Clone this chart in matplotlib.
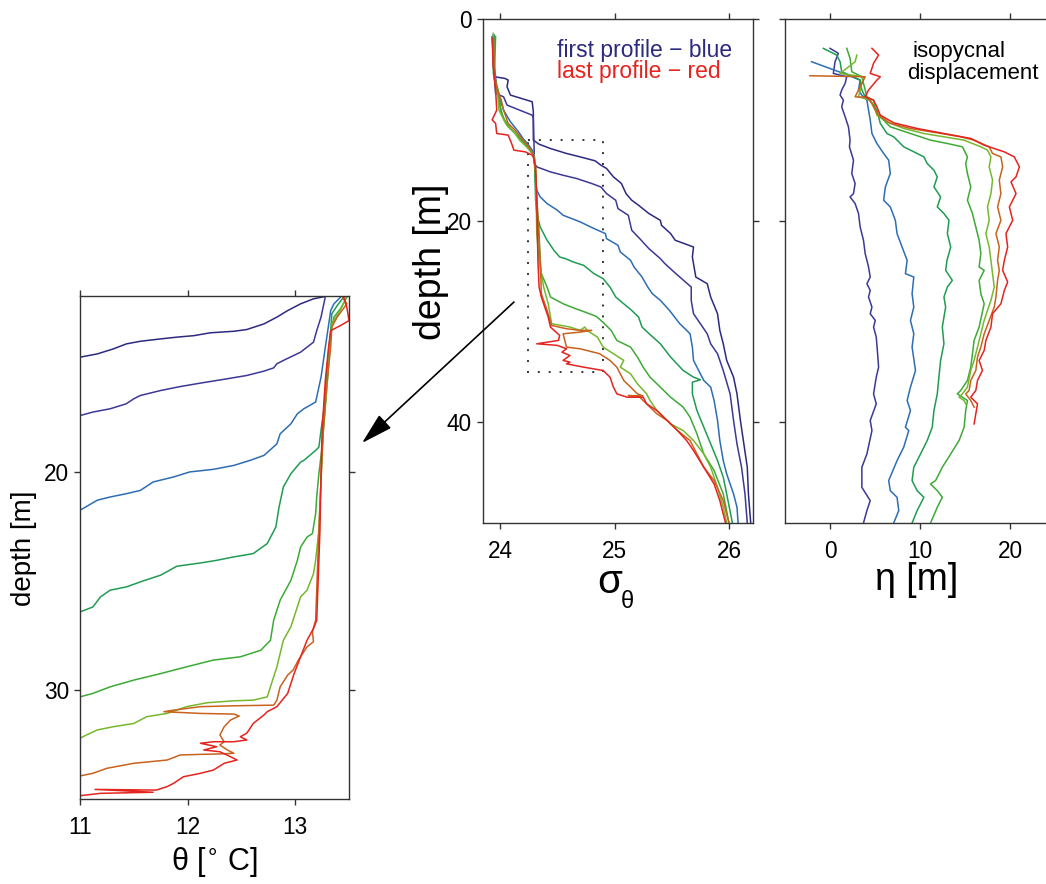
import matplotlib
matplotlib.use("Agg")
import matplotlib.pyplot as plt
from matplotlib.patches import Rectangle

plt.rcParams["font.family"] = ["Liberation Sans", "DejaVu Sans"]
plt.rcParams["mathtext.fontset"] = "dejavusans"

# profile colours, first (navy) to last (red)
colors = ["#2c2a80", "#3b3897", "#2d6db4", "#1f9c52", "#3daa36",
          "#76b82d", "#c8621e", "#e5231f"]

# sigma_theta vs depth, (sigma, depth)
sigma_1 = [(23.94, 1.6), (23.94, 4.7), (23.95, 5.73), (24.04, 5.89), (24.07, 6.06),
           (24.06, 6.72), (24.09, 7.55), (24.28, 8.21), (24.29, 9.21), (24.29, 12.02),
           (24.34, 12.42), (24.44, 12.85), (24.58, 13.34), (24.7, 13.68), (24.83, 14.07),
           (24.88, 14.5), (24.93, 14.83), (24.99, 15.66), (25.06, 16.32), (25.1, 17.32),
           (25.15, 17.98), (25.21, 18.48), (25.3, 19.3), (25.4, 19.97), (25.41, 20.46),
           (25.49, 21.29), (25.53, 21.95), (25.69, 22.62), (25.68, 23.61), (25.71, 25.6),
           (25.81, 26.26), (25.84, 27.58), (25.9, 29.24), (25.92, 30.89), (25.95, 32.22),
           (25.98, 33.87), (26.04, 35.53), (26.07, 37.19), (26.1, 39.83), (26.13, 42.15),
           (26.16, 44.47), (26.17, 47.12), (26.19, 50.0)]
sigma_2 = [(23.93, 1.75), (23.95, 5.73), (23.96, 7.38), (24.03, 7.72), (24.06, 8.54),
           (24.28, 9.54), (24.29, 9.87), (24.3, 14.34), (24.32, 14.67), (24.44, 15.17),
           (24.55, 15.5), (24.67, 15.83), (24.8, 16.32), (24.88, 16.66), (24.93, 17.32),
           (25.01, 17.98), (25.03, 18.81), (25.12, 19.47), (25.15, 20.96), (25.22, 21.79),
           (25.3, 22.78), (25.4, 23.77), (25.44, 24.27), (25.52, 25.1), (25.57, 25.6),
           (25.67, 26.59), (25.67, 27.91), (25.69, 29.24), (25.75, 30.23), (25.81, 31.23),
           (25.84, 32.22), (25.9, 33.21), (25.95, 34.87), (26.01, 37.19), (26.04, 39.83),
           (26.07, 42.15), (26.11, 44.47), (26.14, 47.12), (26.16, 50.0)]
sigma_3 = [(23.94, 1.75), (23.95, 4.74), (23.97, 6.72), (24.0, 8.05), (24.03, 9.04),
           (24.09, 10.2), (24.16, 11.19), (24.2, 11.85), (24.25, 12.52), (24.29, 13.18),
           (24.3, 14.01), (24.31, 15.99), (24.32, 17.0), (24.35, 17.65), (24.41, 18.31),
           (24.5, 18.97), (24.55, 19.47), (24.7, 20.13), (24.79, 20.63), (24.92, 21.29),
           (24.93, 21.79), (25.03, 22.45), (25.05, 23.11), (25.14, 23.94), (25.17, 24.6),
           (25.24, 25.6), (25.29, 26.59), (25.33, 27.25), (25.4, 27.91), (25.48, 28.91),
           (25.57, 30.23), (25.63, 30.89), (25.66, 31.23), (25.68, 32.55), (25.69, 33.87),
           (25.75, 35.2), (25.78, 35.86), (25.84, 36.52), (25.87, 37.85), (25.9, 39.83),
           (25.92, 41.82), (25.95, 43.81), (25.98, 45.13), (26.04, 47.12), (26.07, 48.44),
           (26.08, 50.0)]
sigma_4 = [(23.95, 1.59), (23.94, 5.4), (23.97, 7.05), (23.99, 8.05), (24.01, 9.37),
           (24.06, 10.53), (24.13, 11.36), (24.19, 12.02), (24.25, 12.85), (24.28, 13.34),
           (24.3, 14.01), (24.31, 17.98), (24.32, 19.3), (24.35, 20.63), (24.41, 21.95),
           (24.47, 22.95), (24.52, 23.61), (24.57, 23.77), (24.64, 24.11), (24.73, 24.44),
           (24.82, 25.26), (24.9, 25.76), (24.96, 26.59), (25.01, 27.58), (25.08, 28.25),
           (25.15, 28.91), (25.21, 29.57), (25.24, 30.56), (25.3, 31.2), (25.4, 32.22),
           (25.49, 33.54), (25.6, 34.87), (25.69, 35.53), (25.75, 35.79), (25.68, 36.03),
           (25.68, 37.19), (25.72, 38.84), (25.78, 40.5), (25.84, 42.15), (25.9, 43.81),
           (25.95, 45.46), (25.98, 47.12), (26.03, 50.0)]
sigma_5 = [(23.96, 1.75), (23.95, 5.73), (23.99, 7.38), (24.0, 8.71), (24.03, 9.87),
           (24.09, 10.86), (24.15, 11.52), (24.2, 12.19), (24.26, 13.01), (24.3, 13.68),
           (24.31, 16.32), (24.34, 21.29), (24.35, 23.94), (24.36, 25.26), (24.41, 26.59),
           (24.44, 27.58), (24.55, 28.25), (24.66, 28.74), (24.74, 29.07), (24.84, 29.5),
           (24.9, 30.1), (24.97, 30.89), (25.02, 31.89), (25.14, 32.55), (25.2, 33.54),
           (25.25, 34.54), (25.31, 35.53), (25.4, 36.52), (25.49, 37.52), (25.6, 38.51),
           (25.66, 39.5), (25.72, 41.16), (25.78, 43.15), (25.87, 44.8), (25.95, 47.12),
           (26.0, 50.0)]
sigma_6 = [(23.94, 1.42), (23.95, 6.06), (23.98, 7.72), (23.99, 9.04), (24.04, 10.2),
           (24.07, 10.7), (24.12, 11.19), (24.17, 12.02), (24.23, 12.68), (24.29, 13.41),
           (24.31, 14.67), (24.32, 21.29), (24.34, 23.94), (24.38, 26.59), (24.42, 28.25),
           (24.45, 30.23), (24.61, 30.56), (24.7, 30.89), (24.74, 30.56), (24.76, 30.89),
           (24.85, 31.56), (24.9, 32.55), (24.99, 33.21), (25.08, 33.87), (25.05, 34.54),
           (25.14, 35.2), (25.2, 36.19), (25.28, 37.19), (25.31, 37.85), (25.37, 38.84),
           (25.49, 40.17), (25.6, 40.83), (25.69, 41.82), (25.78, 43.15), (25.84, 44.47),
           (25.9, 46.46), (25.95, 48.44), (25.98, 50.0)]
sigma_7 = [(23.94, 1.92), (23.95, 5.4), (23.97, 6.89), (24.01, 8.05), (24.03, 9.04),
           (24.07, 10.36), (24.13, 11.03), (24.19, 11.85), (24.25, 12.68), (24.29, 13.41),
           (24.31, 15.33), (24.34, 21.95), (24.35, 23.94), (24.36, 27.25), (24.41, 28.91),
           (24.45, 30.4), (24.58, 30.73), (24.7, 30.89), (24.8, 30.89), (24.7, 31.06),
           (24.55, 31.23), (24.58, 32.55), (24.7, 32.72), (24.87, 33.21), (24.96, 33.87),
           (25.02, 34.54), (25.08, 35.86), (25.14, 36.52), (25.2, 37.19), (25.25, 37.4),
           (25.12, 37.35), (25.22, 37.52), (25.28, 38.18), (25.37, 39.17), (25.46, 39.83),
           (25.55, 40.83), (25.66, 41.82), (25.72, 43.15), (25.78, 44.47), (25.87, 45.79),
           (25.95, 47.78), (26.0, 50.0)]
sigma_8 = [(23.93, 1.92), (23.94, 4.74), (23.96, 7.05), (23.97, 9.04), (23.93, 10.0),
           (23.96, 10.36), (23.97, 11.36), (24.07, 11.52), (24.1, 12.35), (24.12, 13.01),
           (24.22, 13.18), (24.28, 13.51), (24.29, 13.68), (24.31, 14.67), (24.32, 17.98),
           (24.33, 23.94), (24.34, 26.59), (24.36, 27.58), (24.39, 28.58), (24.42, 29.57),
           (24.44, 30.56), (24.52, 31.39), (24.51, 31.89), (24.32, 32.22), (24.5, 32.38),
           (24.58, 32.72), (24.54, 33.05), (24.61, 33.38), (24.55, 33.87), (24.61, 34.04),
           (24.58, 34.21), (24.73, 34.54), (24.9, 34.87), (24.96, 35.53), (24.99, 36.52),
           (25.02, 37.19), (25.11, 37.52), (25.25, 37.52), (25.28, 38.18), (25.37, 38.84),
           (25.49, 40.17), (25.55, 40.83), (25.63, 41.82), (25.69, 42.81), (25.78, 44.47),
           (25.87, 46.13), (25.92, 47.78), (25.97, 50.0)]

# potential temperature vs depth in the zoom box, (theta, depth)
theta_1 = [(11.0, 14.71), (11.16, 14.56), (11.31, 14.33), (11.43, 14.1), (11.56, 13.98),
           (11.75, 13.87), (11.9, 13.79), (12.06, 13.72), (12.21, 13.59), (12.43, 13.52),
           (12.55, 13.44), (12.71, 13.18), (12.83, 12.87), (12.93, 12.57), (13.05, 12.26),
           (13.17, 12.03), (13.27, 11.93), (13.3, 11.5)]
theta_2 = [(11.0, 17.39), (11.12, 17.23), (11.28, 17.08), (11.43, 16.85), (11.5, 16.62),
           (11.56, 16.47), (11.75, 16.24), (11.93, 16.06), (12.12, 15.9), (12.37, 15.7),
           (12.55, 15.55), (12.71, 15.35), (12.8, 15.2), (12.83, 15.01), (12.89, 14.86),
           (13.05, 14.48), (13.17, 14.02), (13.2, 13.49), (13.24, 12.87), (13.28, 11.93),
           (13.3, 11.5)]
theta_3 = [(11.0, 21.74), (11.16, 21.28), (11.28, 21.13), (11.43, 20.98), (11.56, 20.83),
           (11.68, 20.44), (11.87, 20.21), (12.02, 19.98), (12.24, 19.86), (12.43, 19.68),
           (12.58, 19.45), (12.71, 19.22), (12.83, 18.69), (12.86, 18.23), (12.96, 17.77),
           (13.02, 17.31), (13.08, 17.08), (13.19, 16.77), (13.24, 15.63), (13.28, 14.25),
           (13.33, 12.57), (13.36, 12.26), (13.42, 11.96), (13.44, 11.5)]
theta_4 = [(13.47, 11.5), (13.45, 11.96), (13.39, 12.34), (13.34, 12.72), (13.33, 13.49),
           (13.3, 15.02), (13.27, 17.0), (13.24, 18.07), (13.22, 18.84), (13.19, 18.99),
           (13.08, 19.45), (13.05, 19.53), (12.96, 20.06), (12.89, 20.67), (12.85, 21.59),
           (12.82, 22.51), (12.74, 23.27), (12.61, 23.73), (12.43, 23.88), (12.27, 24.04),
           (12.12, 24.16), (11.9, 24.31), (11.75, 24.72), (11.59, 24.98), (11.43, 25.26),
           (11.28, 25.41), (11.19, 25.72), (11.12, 26.18), (11.0, 26.41)]
theta_5 = [(13.5, 11.5), (13.48, 11.96), (13.42, 12.49), (13.36, 12.87), (13.33, 13.64),
           (13.31, 15.02), (13.28, 17.0), (13.25, 18.84), (13.22, 20.06), (13.2, 21.13),
           (13.19, 21.9), (13.16, 22.81), (13.11, 22.97), (13.05, 23.43), (13.02, 24.04),
           (12.96, 24.96), (12.86, 25.87), (12.8, 26.79), (12.77, 27.71), (12.68, 28.17),
           (12.49, 28.47), (12.24, 28.62), (11.99, 28.93), (11.75, 29.24), (11.5, 29.54),
           (11.28, 29.85), (11.12, 30.15), (11.0, 30.31)]
theta_6 = [(13.49, 11.5), (13.47, 12.03), (13.41, 12.64), (13.34, 13.18), (13.32, 14.25),
           (13.3, 15.78), (13.26, 18.07), (13.24, 20.37), (13.22, 22.66), (13.19, 24.04),
           (13.17, 24.65), (13.11, 25.41), (13.05, 25.72), (12.96, 27.09), (12.89, 27.71),
           (12.83, 28.93), (12.79, 29.54), (12.74, 30.31), (12.61, 30.46), (12.43, 30.49),
           (12.18, 30.58), (11.99, 30.76), (11.81, 31.07), (11.62, 31.22), (11.5, 31.53),
           (11.31, 31.68), (11.16, 31.83), (11.06, 32.06), (11.0, 32.21)]
theta_7 = [(13.43, 11.5), (13.44, 11.96), (13.48, 12.26), (13.39, 12.87), (13.34, 13.33),
           (13.33, 14.25), (13.29, 16.09), (13.26, 18.07), (13.24, 20.37), (13.22, 22.66),
           (13.21, 24.04), (13.19, 26.79), (13.16, 27.32), (13.17, 27.78), (13.11, 28.01),
           (13.03, 28.62), (12.98, 29.08), (12.93, 29.31), (12.86, 29.85), (12.83, 30.46),
           (12.8, 30.69), (12.43, 30.72), (12.12, 30.76), (11.87, 30.92), (11.78, 30.99),
           (12.12, 31.07), (12.43, 31.1), (12.48, 31.19), (12.4, 31.37), (12.34, 31.68),
           (12.3, 32.06), (12.34, 32.37), (12.3, 32.52), (12.37, 32.75), (12.43, 32.9),
           (12.3, 32.93), (12.12, 32.95), (11.93, 32.98), (11.81, 33.21), (11.5, 33.36),
           (11.25, 33.59), (11.12, 33.82), (11.0, 33.94)]
theta_8 = [(13.44, 11.5), (13.45, 11.93), (13.48, 12.42), (13.5, 13.03), (13.42, 13.26),
           (13.33, 13.49), (13.31, 14.25), (13.28, 15.78), (13.25, 18.07), (13.24, 20.06),
           (13.23, 22.66), (13.22, 24.04), (13.2, 26.79), (13.17, 27.17), (13.11, 27.71),
           (13.05, 28.47), (12.99, 29.24), (12.93, 30.15), (12.83, 30.76), (12.74, 30.99),
           (12.71, 31.14), (12.61, 31.53), (12.55, 31.98), (12.49, 32.14), (12.55, 32.29),
           (12.43, 32.37), (12.24, 32.37), (12.12, 32.44), (12.27, 32.6), (12.15, 32.75),
           (12.3, 32.83), (12.4, 33.06), (12.46, 33.21), (12.34, 33.36), (12.24, 33.67),
           (12.12, 33.82), (11.96, 33.98), (11.87, 34.28), (11.81, 34.43), (11.71, 34.59),
           (11.14, 34.56), (11.68, 34.69), (11.19, 34.74), (11.0, 34.85)]

# isopycnal displacement relative to the first profile, (eta, depth)
eta_2 = [(0.0, 2.91), (0.93, 3.41), (0.56, 4.24), (0.37, 5.4), (1.86, 5.73), (1.68, 6.39),
         (1.3, 7.05), (1.12, 7.55), (1.49, 8.05), (1.3, 8.71), (1.68, 9.7), (2.05, 10.7),
         (2.23, 12.02), (2.16, 12.68), (2.61, 14.01), (2.42, 15.33), (2.79, 16.32),
         (2.61, 17.32), (2.23, 17.65), (2.79, 18.31), (3.17, 19.3), (3.35, 20.63),
         (3.72, 21.95), (3.91, 23.28), (4.1, 23.94), (4.28, 24.6), (4.47, 25.6),
         (4.1, 26.26), (4.47, 26.92), (4.28, 27.58), (4.66, 28.58), (4.47, 29.24),
         (5.03, 29.9), (4.84, 30.56), (5.14, 31.56), (5.29, 33.21), (5.4, 34.54),
         (5.14, 35.53), (4.84, 37.19), (5.14, 38.18), (4.47, 39.83), (4.66, 40.83),
         (4.1, 43.15), (3.54, 44.47), (3.54, 46.46), (4.47, 47.78), (4.1, 48.77), (3.72, 50.0)]
eta_3 = [(-2.05, 4.24), (1.49, 5.4), (2.23, 5.66), (3.35, 6.06), (3.17, 7.05), (3.54, 7.55),
         (4.1, 8.05), (4.28, 9.04), (4.47, 10.03), (4.66, 11.36), (5.21, 12.35), (5.96, 13.34),
         (6.52, 14.01), (6.7, 15.33), (6.15, 16.66), (5.96, 17.98), (6.7, 18.64), (7.26, 19.97),
         (7.45, 21.29), (8.01, 22.62), (8.57, 23.94), (8.38, 25.26), (9.31, 25.6),
         (9.12, 27.25), (9.31, 28.58), (8.94, 29.9), (9.31, 31.23), (9.12, 32.55),
         (9.5, 34.87), (8.94, 36.52), (8.57, 37.85), (8.94, 38.84), (8.38, 40.5),
         (8.75, 40.83), (8.19, 42.48), (7.45, 43.81), (6.52, 45.79), (6.7, 46.79),
         (7.45, 47.45), (7.64, 48.77), (7.08, 50.0)]
eta_4 = [(-0.74, 2.91), (0.74, 3.58), (1.12, 4.24), (1.3, 5.23), (2.42, 5.66), (3.35, 6.06),
         (3.54, 7.05), (3.91, 7.72), (4.47, 8.05), (5.21, 9.04), (5.59, 10.36), (6.33, 11.36),
         (7.08, 11.69), (7.45, 12.02), (8.19, 12.68), (8.94, 13.01), (9.68, 13.34),
         (10.43, 13.68), (10.8, 14.34), (11.55, 15.0), (11.92, 15.66), (11.55, 16.66),
         (12.29, 17.65), (11.92, 18.64), (12.66, 19.3), (13.22, 19.97), (13.04, 21.29),
         (13.41, 22.62), (13.0, 23.94), (12.85, 24.93), (13.59, 25.93), (13.04, 26.59),
         (12.66, 27.58), (12.85, 28.58), (12.66, 29.57), (12.48, 30.56), (12.66, 32.22),
         (12.29, 33.87), (12.1, 35.53), (11.92, 37.19), (11.55, 38.84), (11.36, 40.5),
         (10.8, 41.82), (10.06, 43.15), (9.31, 44.47), (9.12, 45.79), (9.68, 46.79),
         (10.43, 47.45), (9.68, 48.77), (9.12, 50.0)]
eta_5 = [(1.86, 2.91), (2.23, 3.91), (2.42, 5.23), (3.54, 5.73), (4.1, 7.72), (4.84, 8.05),
         (5.21, 9.37), (6.7, 10.7), (8.94, 11.36), (11.17, 12.02), (13.04, 12.35),
         (14.71, 12.68), (15.27, 13.68), (15.08, 14.34), (15.27, 15.33), (15.64, 16.66),
         (15.27, 17.98), (15.83, 19.3), (16.2, 20.63), (16.57, 21.95), (16.76, 23.28),
         (16.57, 24.6), (17.13, 24.93), (16.57, 25.93), (16.76, 27.25), (17.13, 28.25),
         (16.57, 30.56), (16.01, 31.89), (15.83, 33.21), (15.64, 34.54), (15.27, 35.86),
         (14.53, 36.85), (14.15, 37.19), (14.71, 37.52), (15.27, 37.85), (15.08, 38.84),
         (14.9, 40.5), (14.34, 41.82), (13.41, 43.15), (12.48, 44.47), (11.73, 45.79),
         (11.17, 46.13), (11.92, 46.79), (12.48, 47.45), (11.92, 48.44), (11.17, 50.0)]
eta_6 = [(2.98, 3.58), (2.79, 4.24), (1.12, 5.4), (3.72, 5.73), (3.17, 7.72), (4.47, 8.05),
         (5.03, 9.04), (5.21, 9.54), (6.33, 10.2), (8.19, 10.86), (10.43, 11.36),
         (12.66, 11.69), (14.9, 12.02), (16.76, 12.68), (17.5, 13.01), (17.88, 13.68),
         (17.69, 14.67), (18.06, 15.99), (17.88, 17.32), (17.5, 18.64), (17.69, 19.97),
         (17.32, 21.29), (17.69, 22.62), (17.88, 23.94), (18.06, 25.26), (18.25, 26.59),
         (17.88, 27.91), (17.5, 28.91), (17.13, 29.9), (16.76, 31.23), (16.39, 32.55),
         (16.01, 33.87), (15.64, 34.87), (15.27, 36.52), (14.71, 37.19), (14.34, 37.52),
         (14.9, 37.85), (15.08, 38.18)]
eta_7 = [(-2.23, 5.63), (3.91, 5.73), (2.79, 7.72), (4.1, 7.78), (4.66, 8.38), (5.03, 9.04),
         (5.4, 9.54), (6.7, 10.36), (8.94, 10.86), (11.92, 11.29), (14.53, 11.69),
         (16.01, 12.02), (17.69, 12.68), (18.06, 13.34), (18.99, 13.68), (19.18, 14.67),
         (18.81, 15.99), (18.99, 17.32), (18.62, 18.64), (18.99, 19.97), (18.44, 21.29),
         (18.81, 22.62), (18.62, 23.94), (18.81, 24.93), (18.62, 25.93), (18.44, 27.58),
         (18.25, 28.58), (17.69, 29.9), (17.13, 31.23), (16.76, 32.55), (16.39, 33.54),
         (16.2, 34.87), (15.64, 35.86), (15.46, 36.85), (15.08, 37.19), (15.64, 37.85),
         (16.01, 38.51)]
eta_8 = [(4.66, 2.91), (5.4, 3.58), (4.84, 4.4), (4.47, 5.4), (5.59, 5.73), (5.21, 6.06),
         (4.28, 7.05), (3.91, 7.72), (4.84, 8.05), (5.21, 8.71), (5.59, 9.54), (7.08, 10.3),
         (9.68, 10.86), (12.66, 11.36), (15.64, 11.85), (17.13, 12.52), (18.25, 12.85),
         (19.37, 13.18), (20.48, 13.68), (21.04, 14.67), (20.67, 15.66), (20.11, 16.16),
         (20.67, 17.32), (19.93, 18.64), (20.3, 19.97), (19.55, 21.29), (19.74, 22.62),
         (19.37, 23.94), (19.18, 24.93), (19.74, 26.09), (19.37, 26.92), (18.99, 28.25),
         (18.06, 29.24), (17.88, 30.56), (17.32, 31.89), (17.13, 32.88), (16.57, 33.87),
         (16.94, 34.87), (16.39, 35.86), (16.2, 36.85), (15.64, 37.52), (16.39, 38.18),
         (16.2, 39.17), (16.01, 40.17)]

sigma_profiles = [sigma_1, sigma_2, sigma_3, sigma_4, sigma_5, sigma_6, sigma_7, sigma_8]
theta_profiles = [theta_1, theta_2, theta_3, theta_4, theta_5, theta_6, theta_7, theta_8]
eta_profiles = [None, eta_2, eta_3, eta_4, eta_5, eta_6, eta_7, eta_8]

# zoom box drawn on the sigma panel
box_sigma = (24.24, 24.9)
box_depth = (12.0, 35.0)

W, H = 1046, 884
fig = plt.figure(figsize=(W / 100, H / 100), dpi=100)


def add_axes_px(x0, y0, x1, y1):
    return fig.add_axes([x0 / W, 1 - y1 / H, (x1 - x0) / W, (y1 - y0) / H])


def style(ax):
    for s in ax.spines.values():
        s.set_linewidth(1.0)
        s.set_color("#333333")
    ax.tick_params(direction="out", length=4, width=1.0, color="#333333",
                   top=True, right=True, labelsize=16.3, pad=4)


def xy(profile):
    return [p[0] for p in profile], [p[1] for p in profile]


ax_t = add_axes_px(80, 296, 349, 799)
ax_s = add_axes_px(483, 19, 753, 523)
ax_e = add_axes_px(785, 19, 1055, 523)

for i, c in enumerate(colors):
    x, z = xy(sigma_profiles[i])
    ax_s.plot(x, z, color=c, lw=1.1)
    x, z = xy(theta_profiles[i])
    ax_t.plot(x, z, color=c, lw=1.1)
    if eta_profiles[i] is not None:
        x, z = xy(eta_profiles[i])
        ax_e.plot(x, z, color=c, lw=1.1)

# theta panel
ax_t.set_xlim(11, 13.5)
ax_t.set_ylim(35, 11.9)
ax_t.set_xticks([11, 12, 13])
ax_t.set_yticks([20, 30])
style(ax_t)
ax_t.tick_params(axis="x", pad=8)

# sigma panel
ax_s.set_xlim(23.85, 26.21)
ax_s.set_ylim(50, 0)
ax_s.set_xticks([24, 25, 26])
ax_s.set_yticks([0, 20, 40])
style(ax_s)
ax_s.tick_params(axis="x", pad=8)
ax_s.add_patch(Rectangle((box_sigma[0], box_depth[0]), box_sigma[1] - box_sigma[0],
                         box_depth[1] - box_depth[0], fill=False, color="#333333",
                         lw=1.4, linestyle=(0, (1, 4.6))))

# eta panel
ax_e.set_xlim(-5, 25)
ax_e.set_ylim(50, 0)
ax_e.set_xticks([0, 10, 20])
ax_e.set_yticks([0, 20, 40])
style(ax_e)
ax_e.tick_params(axis="x", pad=8)
ax_e.tick_params(axis="y", labelleft=False)

# arrow from the box to the zoomed panel
ax_s.annotate("", xy=(362 / W, 1 - 443 / H), xycoords="figure fraction",
              xytext=(514 / W, 1 - 302 / H), textcoords="figure fraction",
              arrowprops=dict(arrowstyle="-|>,head_length=0.9,head_width=0.25",
                              color="black", lw=1.2, mutation_scale=22,
                              shrinkA=0, shrinkB=0))


def ftext(x, y, s, **kw):
    fig.text(x / W, 1 - y / H, s, **kw)


ftext(557, 57, "first profile \u2212 blue", fontsize=16.5, color=colors[0], va="baseline")
ftext(557, 78, "last profile \u2212 red", fontsize=16.5, color=colors[7], va="baseline")
ftext(912, 57, "isopycnal", fontsize=16, va="baseline")
ftext(907, 79, "displacement", fontsize=16, va="baseline")

ftext(431, 262, "depth [m]", fontsize=27, rotation=90, ha="center", va="center")
ftext(24, 548, "depth [m]", fontsize=20, rotation=90, ha="center", va="center")
ftext(597, 593, "\u03c3", fontsize=29, va="baseline")
ftext(621, 608, "\u03b8", fontsize=17, va="baseline")
ftext(917, 580, "\u03b7 [m]", fontsize=27, ha="center", va="center")
ftext(215, 862, "\u03b8 [$^{\\circ}$ C]", fontsize=22, ha="center", va="center")

fig.savefig("out.png", dpi=100)
